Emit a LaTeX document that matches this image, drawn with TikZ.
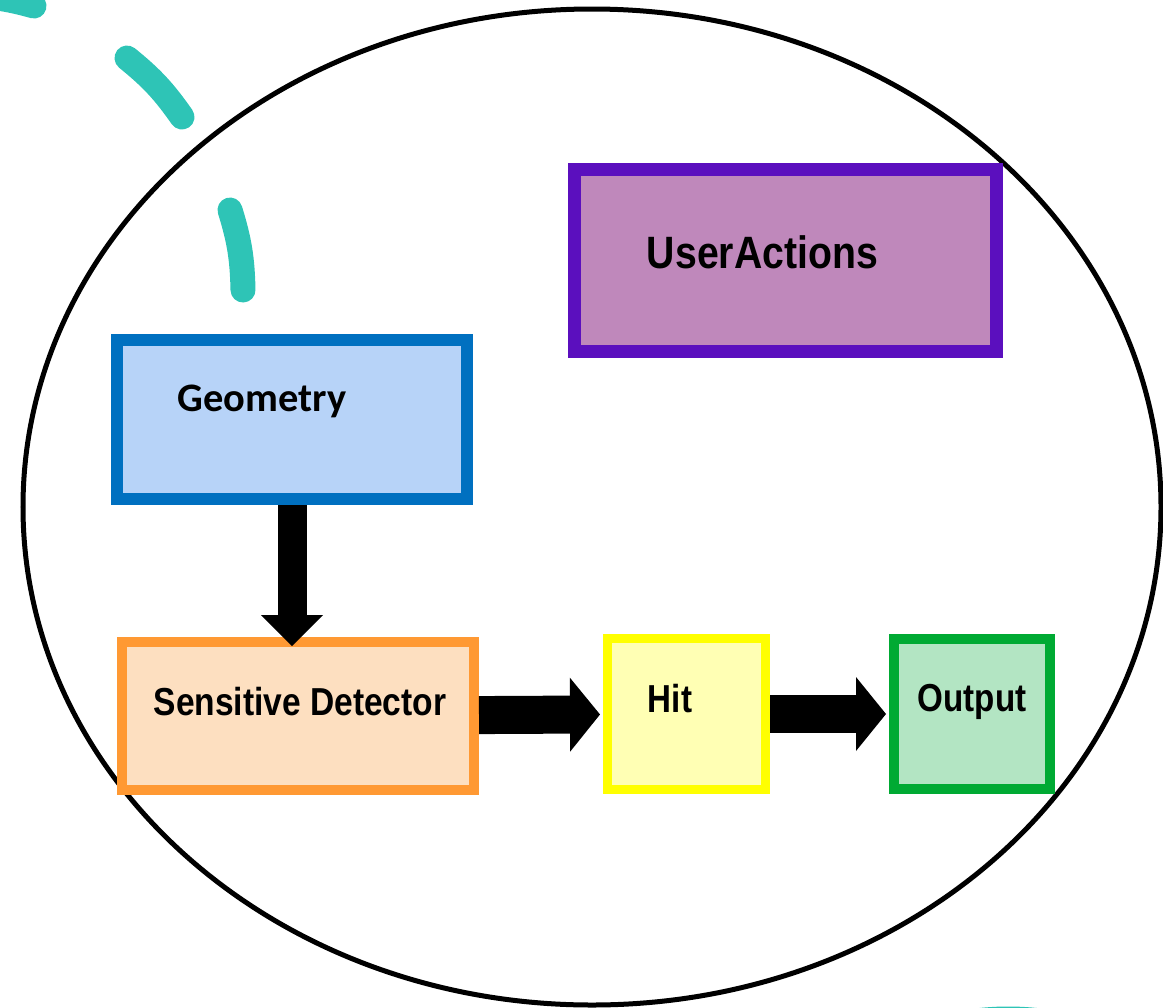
\documentclass[tikz,border=0pt]{standalone}
\usepackage{fontspec}
\usepackage{graphicx}
\setmainfont{Liberation Sans}
\newfontfamily\geofont{Carlito}
\usetikzlibrary{positioning, arrows.meta}

\definecolor{geoblue}{RGB}{0,112,192}
\definecolor{geofill}{RGB}{183,211,248}
\definecolor{uapurple}{RGB}{91,15,190}
\definecolor{uafill}{RGB}{191,136,187}
\definecolor{sdorange}{RGB}{255,153,51}
\definecolor{sdfill}{RGB}{253,223,192}
\definecolor{hityellow}{RGB}{255,255,0}
\definecolor{hitfill}{RGB}{255,255,180}
\definecolor{outgreen}{RGB}{0,170,51}
\definecolor{outfill}{RGB}{179,229,195}
\definecolor{dashteal}{RGB}{46,196,182}

\newcommand{\squeeze}[2]{\scalebox{#1}[1]{#2}}

\begin{document}
\begin{tikzpicture}[node distance=1.3cm,
 box node/.style={rectangle, draw, inner sep=0pt},
 box text/.style={inner sep=0pt, font=\bfseries\fontsize{11.1}{13}\selectfont},
 big arrow/.style={line width=3.8mm, shorten >=0.3mm,
   -{Triangle[width=7.4mm, length=3mm, line width=0pt]}},
 down arrow/.style={line width=2.9mm, shorten >=-0.9mm,
   -{Triangle[width=6.2mm, length=3.1mm, line width=0pt]}},
 teal stroke/.style={draw=dashteal, line width=2.5mm, line cap=round}]

  \useasboundingbox (0,0) rectangle (11.63,-10.07);

  \draw[line width=0.5mm] (5.92,-5.07) ellipse [x radius=5.69, y radius=4.98];

  \draw[teal stroke] (-0.20,0.04) to[bend left=5] (0.34,-0.06);
  \draw[teal stroke] (1.27,-0.58) to[bend left=8] (1.82,-1.17);
  \draw[teal stroke] (2.30,-2.10) to[bend left=8] (2.43,-2.90);
  \draw[teal stroke] (10.54,-10.23) arc[start angle=80, end angle=100, radius=2.64];

  \node[box node, draw=geoblue, fill=geofill, line width=1.2mm,
    minimum width=3.50cm, minimum height=1.59cm] (geo) at (2.92,-4.195) {};
  \node[box node, draw=uapurple, fill=uafill, line width=1.3mm,
    minimum width=4.22cm, minimum height=1.82cm] (ua) at (7.855,-2.605) {};
  \node[box node, draw=sdorange, fill=sdfill, line width=1mm,
    minimum width=3.52cm, minimum height=1.48cm] (sd) [below=1.32cm of geo, xshift=0.6mm] {};
  \node[box node, draw=hityellow, fill=hitfill, line width=0.9mm,
    minimum width=1.58cm, minimum height=1.51cm] (hit) [right=1.24cm of sd, yshift=0.2mm] {};
  \node[box node, draw=outgreen, fill=outfill, line width=1mm,
    minimum width=1.56cm, minimum height=1.50cm] (output) [right=1.19cm of hit] {};

  \node[box text, font=\geofont\bfseries\fontsize{11.5}{14}\selectfont] (geo label)
    at ([shift={(-0.30,0.18)}]geo.center) {Geometry};
  \node[box text, font=\bfseries\fontsize{12.9}{15}\selectfont] (ua label)
    at ([shift={(-0.23,0.08)}]ua.center) {\squeeze{0.865}{UserActions}};
  \node[box text] (sd label) at ([shift={(0.02,0.14)}]sd.center) {\squeeze{0.86}{Sensitive Detector}};
  \node[box text] (hit label) at ([shift={(-0.165,0.15)}]hit.center) {\squeeze{0.85}{Hit}};
  \node[box text] (output label) at ([shift={(0,0.12)}]output.center) {\squeeze{0.85}{Output}};

  \draw[down arrow] (geo.south) -- (geo.south |- sd.north);
  \foreach \s/\t in {sd/hit, hit/output} {
   \draw[big arrow] (\s) -- (\t);}
\end{tikzpicture}
\end{document}
